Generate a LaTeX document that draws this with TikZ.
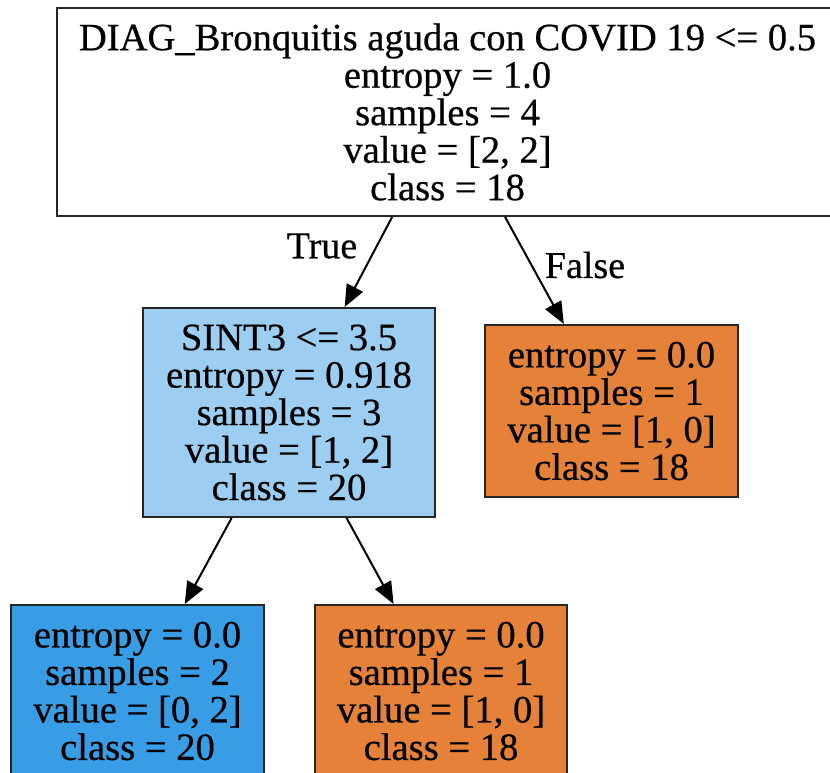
\documentclass[tikz,border=0pt]{standalone}
\usepackage{fontspec}
\setmainfont{Liberation Serif}
\newfontfamily\treefont{Liberation Serif}[FakeBold=0.5]
\usetikzlibrary{arrows.meta}
\definecolor{leafOrange}{RGB}{229,129,57}
\definecolor{leafBlue}{RGB}{57,157,229}
\definecolor{splitBlue}{RGB}{157,206,242}
\tikzset{
  treebox/.style={draw=black!85, line width=2pt, inner sep=0pt, align=center,
    font=\treefont\fontsize{38.6}{37.5}\selectfont},
  edgelbl/.style={font=\treefont\fontsize{38}{38}\selectfont, inner sep=0pt},
  treearrow/.style={line width=2pt, -{Triangle[length=22pt,width=18pt]}},
}
\begin{document}
\begin{tikzpicture}[x=1pt,y=-1pt]
\useasboundingbox (0,0) rectangle (830,773);
\clip (0,0) rectangle (830,773);
\fill[white] (0,0) rectangle (830,773);

\node[treebox, fill=white, minimum width=781pt, minimum height=208pt] (root) at (447.5,112)
  {DIAG\_Bronquitis aguda con COVID 19 <= 0.5\\entropy = 1.0\\samples = 4\\value = [2, 2]\\class = 18};
\node[treebox, fill=splitBlue, minimum width=292pt, minimum height=209pt] (sint) at (289,412.5)
  {SINT3 <= 3.5\\entropy = 0.918\\samples = 3\\value = [1, 2]\\class = 20};
\node[treebox, fill=leafOrange, minimum width=253pt, minimum height=172pt] (rleaf) at (611.5,411)
  {entropy = 0.0\\samples = 1\\value = [1, 0]\\class = 18};
\node[treebox, fill=leafBlue, minimum width=253pt, minimum height=172pt] (ll) at (137.5,691)
  {entropy = 0.0\\samples = 2\\value = [0, 2]\\class = 20};
\node[treebox, fill=leafOrange, minimum width=252pt, minimum height=172pt] (lr) at (441,691)
  {entropy = 0.0\\samples = 1\\value = [1, 0]\\class = 18};

\draw[treearrow] (root) -- (sint);
\draw[treearrow] (root) -- (rleaf);
\draw[treearrow] (sint) -- (ll);
\draw[treearrow] (sint) -- (lr);

\node[edgelbl] (ltrue) at (322,246) {True};
\node[edgelbl] (lfalse) at (585,265) {False};
\end{tikzpicture}
\end{document}
